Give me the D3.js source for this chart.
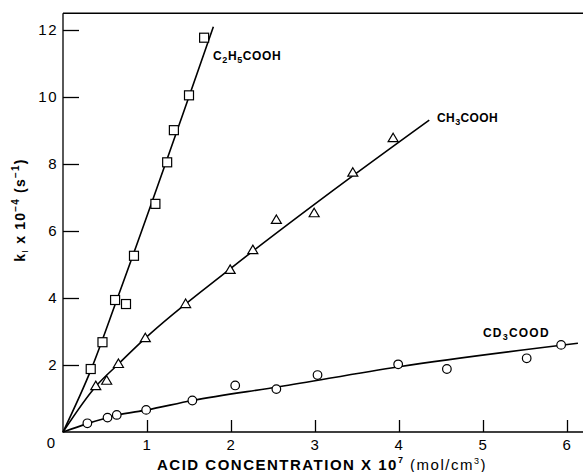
<!DOCTYPE html>
<html>
<head>
<meta charset="utf-8">
<script src="https://cdn.jsdelivr.net/npm/d3@7"></script>
<style>
  body { margin: 0; background: #fff; }
  text { font-family: "Liberation Sans", Arial, sans-serif; fill: #000; }
</style>
</head>
<body>
<script>
// C2H5COOH (squares)
const propX = [0.33, 0.47, 0.62, 0.75, 0.845, 1.10, 1.24, 1.32, 1.50, 1.68]
const propY = [1.88, 2.68, 3.94, 3.82, 5.26, 6.81, 8.05, 9.01, 10.05, 11.77]
const propFitX = [0, 0.34, 0.64, 1.79]
const propFitY = [0, 1.9, 3.94, 12.1]

// CH3COOH (triangles)
const aceticX = [0.39, 0.52, 0.66, 0.98, 1.46, 1.99, 2.26, 2.54, 2.99, 3.45, 3.93]
const aceticY = [1.37, 1.53, 2.03, 2.80, 3.82, 4.84, 5.43, 6.33, 6.53, 7.74, 8.77]
const aceticFitX = [0, 0.39, 0.66, 0.98, 1.99, 3.22, 4.36]
const aceticFitY = [0, 1.36, 2.03, 2.80, 4.87, 7.22, 9.31]

// CD3COOD (circles)
const deutX = [0.29, 0.53, 0.64, 0.99, 1.54, 2.05, 2.54, 3.03, 3.99, 4.57, 5.52, 5.93]
const deutY = [0.26, 0.43, 0.51, 0.66, 0.94, 1.39, 1.28, 1.70, 2.02, 1.88, 2.20, 2.60]
const deutFitX = [0, 0.29, 0.64, 1.0, 1.54, 2.57, 4.0, 6.13]
const deutFitY = [0, 0.25, 0.50, 0.66, 0.94, 1.35, 1.95, 2.65]

const xTicks = [1, 2, 3, 4, 5, 6]
const yTicks = [2, 4, 6, 8, 10, 12]

const width = 583, height = 472
const margin = {top: 13, left: 63, bottom: 40}

const svg = d3.select('body').append('svg')
    .attr('width', width)
    .attr('height', height)

// 84 px per unit on x, 33.5 px per unit on y
const xScale = d3.scaleLinear()
    .domain([0, 6.19])
    .range([margin.left, margin.left + 84 * 6.19])

const yScale = d3.scaleLinear()
    .domain([0, 12.5])
    .range([height - margin.bottom, height - margin.bottom - 33.5 * 12.5])

const x0 = xScale(0), y0 = yScale(0)

// frame: left, bottom, top
svg.append('path')
    .attr('d', `M${x0},${yScale(12.5)}V${y0}H${width}M${x0},${yScale(12.5)}H${width}`)
    .attr('fill', 'none')
    .attr('stroke', '#000')
    .attr('stroke-width', 1.3)

const xAxis = svg.append('g')
    .attr('transform', `translate(0,${y0})`)
    .call(d3.axisBottom(xScale).tickValues(xTicks).tickSize(-12).tickPadding(7).tickFormat(d3.format('d')))
xAxis.select('.domain').remove()

const yAxis = svg.append('g')
    .attr('transform', `translate(${x0},0)`)
    .call(d3.axisLeft(yScale).tickValues(yTicks).tickSize(-16).tickPadding(5).tickFormat(d3.format('d')))
yAxis.select('.domain').remove()

svg.selectAll('.tick line').attr('stroke', '#000').attr('stroke-width', 1.3)
svg.selectAll('.tick text')
    .attr('font-size', 15)
    .attr('font-family', '"Liberation Sans", Arial, sans-serif')
    .attr('letter-spacing', 1.5)

// shared zero at the corner
svg.append('text')
    .attr('x', x0 - 12)
    .attr('y', y0 + 16)
    .attr('text-anchor', 'middle')
    .attr('font-size', 15)
    .text('0')

// fit lines
const line = d3.line()
    .x(d => xScale(d[0]))
    .y(d => yScale(d[1]))
    .curve(d3.curveMonotoneX)

const fits = [
    d3.zip(propFitX, propFitY),
    d3.zip(aceticFitX, aceticFitY),
    d3.zip(deutFitX, deutFitY)
]
svg.selectAll('path.fit')
    .data(fits)
    .enter()
    .append('path')
    .attr('class', 'fit')
    .attr('d', line)
    .attr('fill', 'none')
    .attr('stroke', '#000')
    .attr('stroke-width', 1.6)

// markers
svg.selectAll('rect.sq')
    .data(d3.zip(propX, propY))
    .enter()
    .append('rect')
    .attr('x', d => xScale(d[0]) - 4.5)
    .attr('y', d => yScale(d[1]) - 4.5)
    .attr('width', 9)
    .attr('height', 9)
    .attr('fill', '#fff')
    .attr('stroke', '#000')
    .attr('stroke-width', 1.2)

svg.selectAll('path.tri')
    .data(d3.zip(aceticX, aceticY))
    .enter()
    .append('path')
    .attr('d', d => {
        const cx = xScale(d[0]), cy = yScale(d[1])
        return `M${cx},${cy - 5}L${cx + 5},${cy + 3.5}L${cx - 5},${cy + 3.5}Z`
    })
    .attr('fill', '#fff')
    .attr('stroke', '#000')
    .attr('stroke-width', 1.2)

svg.selectAll('circle.circ')
    .data(d3.zip(deutX, deutY))
    .enter()
    .append('circle')
    .attr('cx', d => xScale(d[0]))
    .attr('cy', d => yScale(d[1]))
    .attr('r', 4.3)
    .attr('fill', '#fff')
    .attr('stroke', '#000')
    .attr('stroke-width', 1.2)

// formula labels: digits become subscripts
function formula(x, y, parts, spacing) {
    const t = svg.append('text')
        .attr('x', x)
        .attr('y', y)
        .attr('font-size', 12)
        .attr('font-weight', 'bold')
        .attr('letter-spacing', spacing)
    let shifted = false
    parts.forEach(p => {
        const sub = /^\d$/.test(p)
        const dy = sub && !shifted ? 3 : (!sub && shifted ? -3 : 0)
        shifted = sub
        t.append('tspan')
            .attr('dy', dy)
            .attr('font-size', sub ? 9 : 12)
            .text(p)
    })
}
formula(213, 60, ['C', '2', 'H', '5', 'COOH'], 0.6)
formula(437, 122, ['CH', '3', 'COOH'], 0.4)
formula(483, 337, ['CD', '3', 'COOD'], 1.2)

// x axis title
const xt = svg.append('text')
    .attr('x', 157)
    .attr('y', 470)
    .attr('font-size', 15)
    .attr('font-weight', 'bold')
    .attr('letter-spacing', 1.5)
xt.append('tspan').text('ACID CONCENTRATION X 10')
xt.append('tspan').attr('dy', -7).attr('font-size', 9).text('7')
xt.append('tspan').attr('dy', 7).attr('font-weight', 'normal').text(' (mol/cm')
xt.append('tspan').attr('dy', -6).attr('font-size', 9).attr('font-weight', 'normal').text('3')
xt.append('tspan').attr('dy', 6).attr('font-weight', 'normal').text(')')

// y axis title
const yt = svg.append('text')
    .attr('transform', 'translate(25,210) rotate(-90)')
    .attr('text-anchor', 'middle')
    .attr('font-size', 14)
    .attr('font-weight', 'bold')
    .attr('letter-spacing', 1.2)
yt.append('tspan').text('k')
yt.append('tspan').attr('dy', 3).attr('font-size', 9).attr('font-weight', 'normal').text('I')
yt.append('tspan').attr('dy', -3).text('  x  10')
yt.append('tspan').attr('dy', -6).attr('font-size', 10).text('−4')
yt.append('tspan').attr('dy', 6).text('  (s')
yt.append('tspan').attr('dy', -6).attr('font-size', 10).text('−1')
yt.append('tspan').attr('dy', 6).text(')')
</script>
</body>
</html>
